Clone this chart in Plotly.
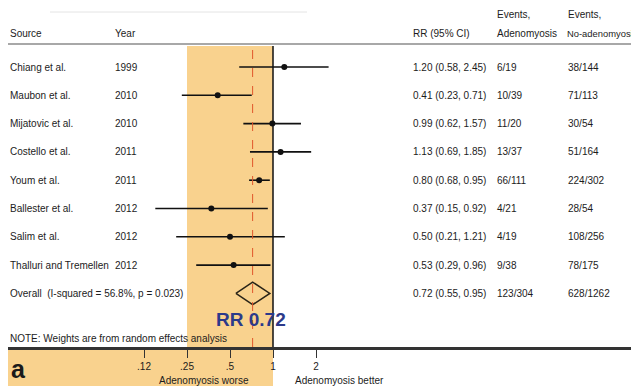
import math
import plotly.graph_objects as go

# ---------------- data ----------------
studies = ["Chiang et al.", "Maubon et al.", "Mijatovic et al.", "Costello et al.",
           "Youm et al.", "Ballester et al.", "Salim et al.", "Thalluri and Tremellen"]
years = ["1999", "2010", "2010", "2011", "2011", "2012", "2012", "2012"]
rr = [1.20, 0.41, 0.99, 1.13, 0.80, 0.37, 0.50, 0.53]
ci_low = [0.58, 0.23, 0.62, 0.69, 0.68, 0.15, 0.21, 0.29]
ci_high = [2.45, 0.71, 1.57, 1.85, 0.95, 0.92, 1.21, 0.96]
events_adeno = ["6/19", "10/39", "11/20", "13/37", "66/111", "4/21", "4/19", "9/38"]
events_no = ["38/144", "71/113", "30/54", "51/164", "224/302", "28/54", "108/256", "78/175"]

overall_label = "Overall  (I-squared = 56.8%, p = 0.023)"
overall_rr = 0.72
overall_low = 0.55
overall_high = 0.95
overall_adeno = "123/304"
overall_no = "628/1262"

tick_vals = [0.125, 0.25, 0.5, 1, 2]
tick_text = [".12", ".25", ".5", "1", "2"]
worse_band = [0.25, 1]

# ---------------- layout helpers ----------------
W, H = 639, 386          # window size
OX, OY = 8, 8            # page body margin offset
FW, FH = W - OX, H - OY  # figure size
PLOT_H = 347             # axis line position (window px)
FONT = "Liberation Sans, Arial, sans-serif"
TXT = "#1c1c1c"
ORANGE = "#f9d28e"

ONE_PX = 273             # window x of RR = 1
DEC = 43 / math.log10(2)  # px per decade
ROW0, ROWH = 67, 28.3


def px(x):
    return (x - OX) / FW


def py(y):
    return (PLOT_H - y) / (PLOT_H - OY)


n = len(studies)
rows = list(range(n))
overall_row = n

fig = go.Figure()

# CI lines
xs, ys = [], []
for i in rows:
    xs += [ci_low[i], ci_high[i], None]
    ys += [i, i, None]
fig.add_trace(go.Scatter(x=xs, y=ys, mode="lines",
                         line=dict(color="#111111", width=1.6),
                         hoverinfo="skip", showlegend=False))
# point estimates
fig.add_trace(go.Scatter(x=rr, y=rows, mode="markers",
                         marker=dict(color="#111111", size=6, symbol="circle"),
                         showlegend=False))
# overall diamond
h = 0.40
fig.add_trace(go.Scatter(
    x=[overall_low, overall_rr, overall_high, overall_rr, overall_low],
    y=[overall_row, overall_row - h, overall_row, overall_row + h, overall_row],
    mode="lines", line=dict(color="#2a2418", width=1.5),
    showlegend=False, hoverinfo="skip"))

shapes = []
shapes.append(dict(type="rect", xref="x", yref="paper", x0=worse_band[0], x1=worse_band[1],
                   y0=0, y1=py(46), fillcolor=ORANGE, line=dict(width=0), layer="below"))
shapes.append(dict(type="rect", xref="x", yref="paper", x0=0.001, x1=worse_band[1],
                   y0=py(H), y1=0, fillcolor=ORANGE, line=dict(width=0), layer="below"))
shapes.append(dict(type="line", xref="x", yref="paper", x0=1, x1=1,
                   y0=0, y1=py(46), line=dict(color="#111111", width=1.5)))
shapes.append(dict(type="line", xref="x", yref="paper", x0=overall_rr, x1=overall_rr,
                   y0=0, y1=py(46), line=dict(color="#e0572b", width=1, dash="dash")))
shapes.append(dict(type="line", xref="paper", yref="paper", x0=0, x1=1,
                   y0=py(44), y1=py(44), line=dict(color="#a8a8a8", width=2)))
shapes.append(dict(type="line", xref="paper", yref="paper", x0=px(50), x1=px(307),
                   y0=py(12), y1=py(12), line=dict(color="#e4e4e4", width=1)))

ann = []


def text(x, y, s, size=10, yref="paper", **kw):
    d = dict(x=x, y=y, xref="paper", yref=yref, text=s, showarrow=False,
             xanchor=kw.pop("xanchor", "left"), yanchor=kw.pop("yanchor", "middle"),
             font=dict(family=FONT, size=size, color=kw.pop("color", TXT)))
    d.update(kw)
    ann.append(d)


text(px(8), py(33), "Source")
text(px(113), py(33), "Year")
text(px(411), py(33), "RR (95% CI)")
text(px(495), py(15), "Events,")
text(px(495), py(33), "Adenomyosis")
text(px(566), py(15), "Events,")
text(px(565), py(33), "No-adenomyosis", size=9.4)

for i in rows:
    text(px(8), i, studies[i], yref="y")
    text(px(113), i, years[i], yref="y")
    text(px(411), i, f"{rr[i]:.2f} ({ci_low[i]:.2f}, {ci_high[i]:.2f})", yref="y")
    text(px(495), i, events_adeno[i], yref="y")
    text(px(566), i, events_no[i], yref="y")

text(px(8), overall_row, overall_label, yref="y")
text(px(411), overall_row, f"{overall_rr:.2f} ({overall_low:.2f}, {overall_high:.2f})", yref="y")
text(px(495), overall_row, overall_adeno, yref="y")
text(px(566), overall_row, overall_no, yref="y")

text(px(8), py(338), "NOTE: Weights are from random effects analysis")
text(px(251), py(319), f"<b>RR {overall_rr:.2f}</b>", size=19, color="#2c3a8a",
     xanchor="center")
text(px(204), py(380), "Adenomyosis worse", xanchor="center")
text(px(293), py(380), "Adenomyosis better")
text(px(9), py(369), "<b>a</b>", size=25, color="#1a1a1a")

fig.update_layout(
    width=FW, height=FH,
    margin=dict(l=0, r=0, t=0, b=H - PLOT_H, pad=0),
    paper_bgcolor="white", plot_bgcolor="rgba(0,0,0,0)",
    shapes=shapes, annotations=ann, showlegend=False,
    font=dict(family=FONT, size=10, color=TXT),
)
fig.update_xaxes(type="log", range=[(OX - ONE_PX) / DEC, (W - ONE_PX) / DEC],
                 tickvals=tick_vals, ticktext=tick_text,
                 showgrid=False, zeroline=False, showline=True, linecolor="#333333",
                 linewidth=2.5, ticks="outside", ticklen=8, tickwidth=1, tickcolor="#333333",
                 tickfont=dict(family=FONT, size=10, color=TXT))
fig.update_yaxes(range=[(PLOT_H - ROW0) / ROWH, (OY - ROW0) / ROWH], visible=False,
                 showgrid=False, zeroline=False)

fig.write_html("out.html")
